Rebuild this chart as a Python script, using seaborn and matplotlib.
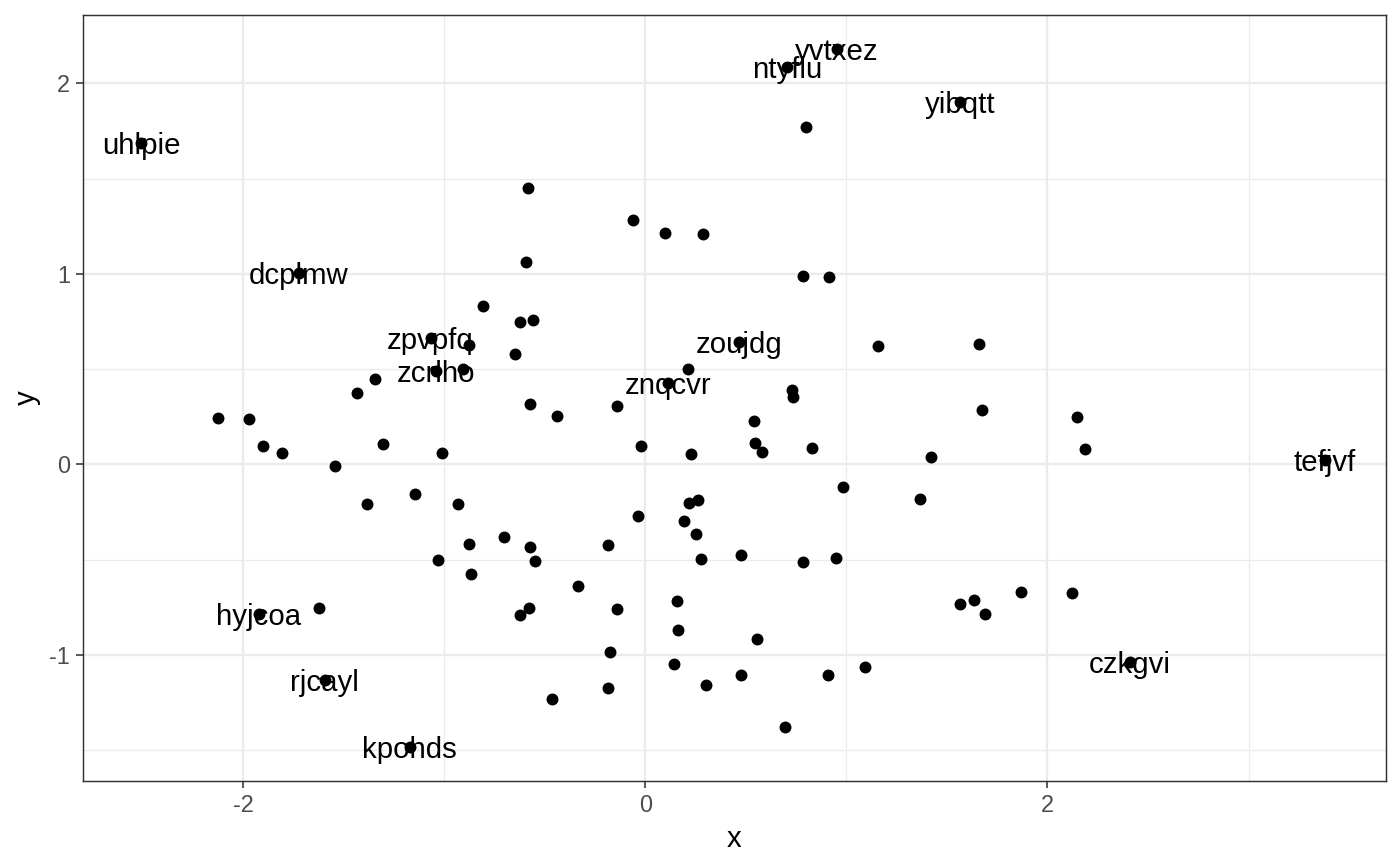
import numpy as np
import pandas as pd
import seaborn as sns
import matplotlib.pyplot as plt

# point coordinates
x = [
    -2.508, -1.724, -1.069, -1.044, 0.953, 0.704, 1.565, 0.465, 0.112, 3.381,
    2.410, -1.923, -1.595, -1.172,
    -0.878, -0.908, -1.346, -1.435, -0.808, -0.624, -0.560, -0.585, -0.595, -0.649,
    -0.575, -0.440, -0.142, -0.022, 0.226, 0.540, 0.545, 0.580, 0.828, 1.420,
    1.674, 1.659, 1.157, 0.211, 0.729, 0.734, 0.784, 0.913, -0.062, 0.097,
    0.286, 0.799,
    -2.127, -1.973, -1.903, -1.808, -1.545, -1.306, -1.012, -1.386, -1.147, -0.933,
    -0.878, -0.704, -0.575, -0.550, -1.032, -0.868, -0.336, -1.624, -0.580, -0.624,
    -0.465,
    0.983, 1.366, 0.216, 0.261, -0.037, 0.192, 0.251, -0.187, 0.276, 0.475,
    0.784, 0.948, -0.142, 0.157, 0.162, 0.555, -0.177, 0.142, 0.475, 0.301,
    0.908, 1.092, -0.187, 0.694, 1.565, 1.634, 1.689, 1.868,
    2.122, 2.147, 2.187,
]
y = [
    1.685, 1.003, 0.665, 0.490, 2.180, 2.086, 1.902, 0.642, 0.427, 0.023,
    -1.036, -0.786, -1.132, -1.484,
    0.626, 0.500, 0.448, 0.374, 0.831, 0.747, 0.757, 1.450, 1.062, 0.579,
    0.317, 0.254, 0.306, 0.096, 0.054, 0.227, 0.112, 0.065, 0.086, 0.038,
    0.285, 0.632, 0.621, 0.500, 0.390, 0.353, 0.988, 0.983, 1.282, 1.214,
    1.209, 1.771,
    0.243, 0.238, 0.096, 0.059, -0.009, 0.107, 0.059, -0.208, -0.156, -0.208,
    -0.418, -0.382, -0.434, -0.508, -0.502, -0.576, -0.639, -0.754, -0.754, -0.791,
    -1.232,
    -0.119, -0.182, -0.203, -0.187, -0.271, -0.298, -0.366, -0.424, -0.497, -0.476,
    -0.513, -0.492, -0.760, -0.718, -0.870, -0.917, -0.985, -1.048, -1.106, -1.159,
    -1.106, -1.064, -1.174, -1.379, -0.733, -0.712, -0.786, -0.670,
    -0.676, 0.248, 0.080,
]
labels = [
    "uhlpie", "dcplmw", "zpvpfq", "zcrlho", "yvtxez", "ntyflu", "yibqtt",
    "zoujdg", "znqcvr", "tefjvf", "czkgvi", "hyjcoa", "rjcayl", "kpohds",
]
labels = labels + [""] * (len(x) - len(labels))

df = pd.DataFrame({"x": x, "y": y, "label": labels})

sns.set_theme(style="white")
plt.rcParams['font.family'] = ['Liberation Sans', 'DejaVu Sans']
plt.rcParams['axes.unicode_minus'] = False

fig = plt.figure(figsize=(1400 / 192, 866 / 192), dpi=192)
ax = fig.add_axes([83 / 1400, 1 - 781 / 866, (1386 - 83) / 1400, (781 - 15) / 866])

sns.scatterplot(data=df, x="x", y="y", color="black", s=20, linewidth=0, ax=ax, zorder=3)

for _, row in df[df.label != ""].iterrows():
    ax.text(row.x, row.y, row.label, ha="center", va="center_baseline",
            fontsize=11, color="black", zorder=4)

ax.set_xlim(-2.798, 3.684)
ax.set_ylim(-1.662, 2.359)
ax.set_xticks([-2, 0, 2])
ax.set_xticks([-1, 1, 3], minor=True)
ax.set_yticks([-1, 0, 1, 2])
ax.set_yticks([-1.5, -0.5, 0.5, 1.5], minor=True)
ax.set_xticklabels(["-2", "0", "2"])
ax.set_yticklabels(["-1", "0", "1", "2"])

ax.grid(which="major", color="#EBEBEB", linewidth=0.9)
ax.grid(which="minor", color="#EBEBEB", linewidth=0.45)
ax.set_axisbelow(True)

ax.tick_params(which="major", direction="out", length=2.75, width=0.6,
               color="#333333", labelsize=8.8, labelcolor="#4D4D4D", pad=2.2,
               bottom=True, left=True)
ax.tick_params(which="minor", length=0)

for sp in ax.spines.values():
    sp.set_color("#333333")
    sp.set_linewidth(0.55)

ax.set_xlabel("x", fontsize=11, color="black", labelpad=3)
ax.set_ylabel("y", fontsize=11, color="black", labelpad=3)

fig.savefig("out.png", dpi=192)
